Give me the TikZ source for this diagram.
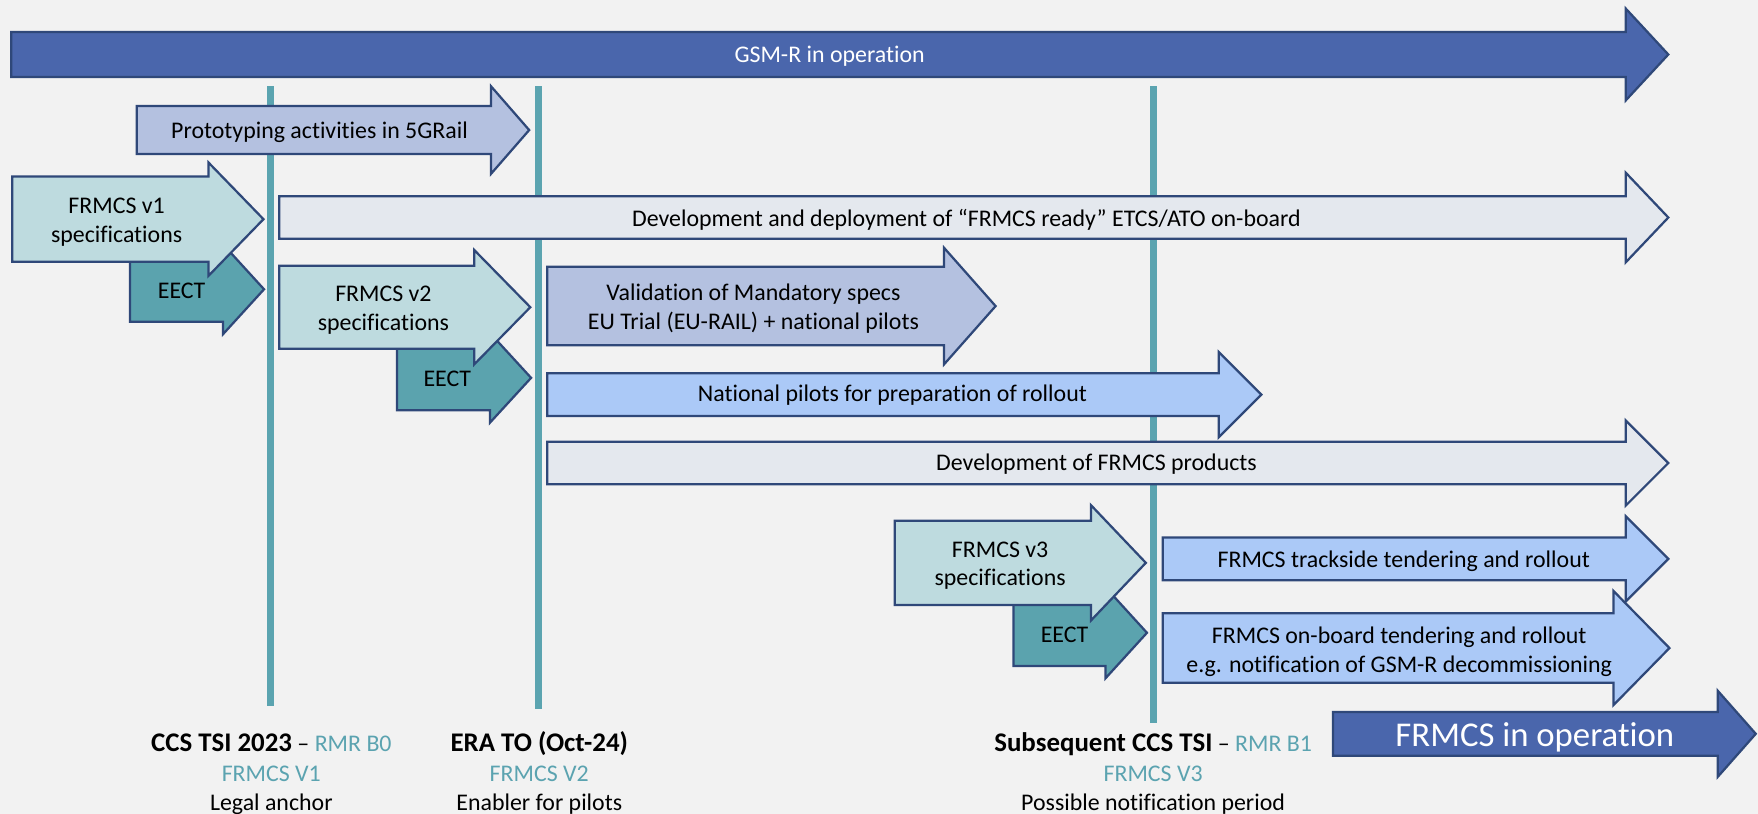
\documentclass[tikz,border=0pt]{standalone}
\usepackage{fontspec}
\setmainfont{Carlito}[Ligatures={NoCommon}]
\definecolor{bgc}{HTML}{F2F2F2}
\definecolor{darkblue}{HTML}{4A66AC}
\definecolor{outl}{HTML}{2F4879}
\definecolor{lavender}{HTML}{B4C1E0}
\definecolor{lteal}{HTML}{BEDBDF}
\definecolor{eect}{HTML}{5BA3AE}
\definecolor{lgray}{HTML}{E4E8EE}
\definecolor{lblue}{HTML}{ABC9F7}
\definecolor{tealline}{HTML}{5BA4B0}
\definecolor{tealtxt}{HTML}{5BA3B0}
\newcommand\mainsz{\fontsize{21.3}{26}\selectfont}
\newcommand\boldsz{\fontsize{24}{29}\selectfont\bfseries}
\newcommand\bigsz{\fontsize{31}{37}\selectfont}
% #1 fill, #2 left, #3 head base, #4 tip, #5 y centre, #6 body half height, #7 head half height
\newcommand\tlarrow[7]{%
  \draw[arrowline, fill=#1] (#2,#5-#6) -- (#3,#5-#6) -- (#3,#5-#7) -- (#4,#5)
    -- (#3,#5+#7) -- (#3,#5+#6) -- (#2,#5+#6) -- cycle;}
\tikzset{
  arrowline/.style={draw=outl, line width=2pt, line join=miter},
  lbl/.style={anchor=base, inner sep=0pt, font=\mainsz},
  wlbl/.style={lbl, text=white},
  milestone/.style={draw=tealline, line width=6pt},
}
\begin{document}
\begin{tikzpicture}[x=1pt, y=-1pt]
\useasboundingbox (0,0) rectangle (1568,726);
\fill[bgc] (0,0) rectangle (1568,726);

% milestone lines
\coordinate (m1t) at (241,77);  \coordinate (m1b) at (241,630);
\coordinate (m2t) at (480,77);  \coordinate (m2b) at (480,632);
\coordinate (m3t) at (1029,77); \coordinate (m3b) at (1029,645);
\draw[milestone] (m1t) -- (m1b);
\draw[milestone] (m2t) -- (m2b);
\draw[milestone] (m3t) -- (m3b);

% GSM-R in operation
\tlarrow{darkblue}{10}{1450}{1488}{48.6}{20}{41}
\node[wlbl] (gsmr) at (740,56) {GSM-R in operation};

% Prototyping
\tlarrow{lavender}{122}{438}{472}{116}{21.4}{39}
\node[lbl] (proto) at (285,123.4) {Prototyping activities in 5GRail};

% EECT 1 and FRMCS v1
\tlarrow{eect}{116}{199}{235.5}{258}{29}{40}
\node[lbl] (eect1) at (162,266) {EECT};
\tlarrow{lteal}{11}{186}{235}{195.5}{38}{50.5}
\node[lbl] (v1a) at (104,190) {FRMCS v1};
\node[lbl] (v1b) at (104,216) {specifications};

% Development and deployment
\tlarrow{lgray}{249}{1450}{1488}{194}{19}{40}
\node[lbl] (devdep) at (862,201.6) {Development and deployment of “FRMCS ready” ETCS/ATO on-board};

% EECT 2 and FRMCS v2
\tlarrow{eect}{354}{437}{473.7}{337}{29}{40}
\node[lbl] (eect2) at (399,345) {EECT};
\tlarrow{lteal}{249}{423}{473}{274}{37}{51}
\node[lbl] (v2a) at (342,269) {FRMCS v2};
\node[lbl] (v2b) at (342,294.4) {specifications};

% Validation
\tlarrow{lavender}{488}{842}{888}{273}{35}{52}
\node[lbl] (vala) at (672,267.6) {Validation of Mandatory specs};
\node[lbl] (valb) at (672,293.5) {EU Trial (EU-RAIL) + national pilots};

% National pilots
\tlarrow{lblue}{488}{1087}{1125}{352}{19}{38}
\node[lbl] (natp) at (796,358.5) {National pilots for preparation of rollout};

% Development of FRMCS products
\tlarrow{lgray}{488}{1450}{1488}{413}{19}{38}
\node[lbl] (devprod) at (978,420) {Development of FRMCS products};

% EECT 3 and FRMCS v3
\tlarrow{eect}{904}{986}{1023}{564.4}{29.6}{40.6}
\node[lbl] (eect3) at (949.5,573) {EECT};
\tlarrow{lteal}{798}{973}{1022}{502}{37.6}{51.5}
\node[lbl] (v3a) at (892,497.5) {FRMCS v3};
\node[lbl] (v3b) at (892,522.5) {specifications};

% Trackside
\tlarrow{lblue}{1037}{1450}{1488}{498.5}{19}{38}
\node[lbl] (track) at (1252,506.5) {FRMCS trackside tendering and rollout};

% On-board
\tlarrow{lblue}{1037}{1439}{1489}{578}{31}{51}
\node[lbl] (onba) at (1248,574) {FRMCS on-board tendering and rollout};
\node[lbl] (onbb) at (1248,599.5) {e.g. notification of GSM-R decommissioning};

% FRMCS in operation
\tlarrow{darkblue}{1189}{1532}{1566}{654.5}{19.5}{38.5}
\node[wlbl, font=\bigsz] (frop) at (1369,665.5) {FRMCS in operation};

% Milestone labels
\node[lbl] (ms1a) at (242,670.5) {{\boldsz CCS TSI 2023} – \textcolor{tealtxt}{RMR B0}};
\node[lbl, text=tealtxt] (ms1b) at (242,697) {FRMCS V1};
\node[lbl] (ms1c) at (242,723) {Legal anchor};

\node[lbl] (ms2a) at (481,670.5) {{\boldsz ERA TO (Oct-24)}};
\node[lbl, text=tealtxt] (ms2b) at (481,697) {FRMCS V2};
\node[lbl] (ms2c) at (481,723) {Enabler for pilots};

\node[lbl] (ms3a) at (1028.5,670.5) {{\boldsz Subsequent CCS TSI} – \textcolor{tealtxt}{RMR B1}};
\node[lbl, text=tealtxt] (ms3b) at (1028.5,697) {FRMCS V3};
\node[lbl] (ms3c) at (1028.5,723) {Possible notification period};
\end{tikzpicture}
\end{document}
